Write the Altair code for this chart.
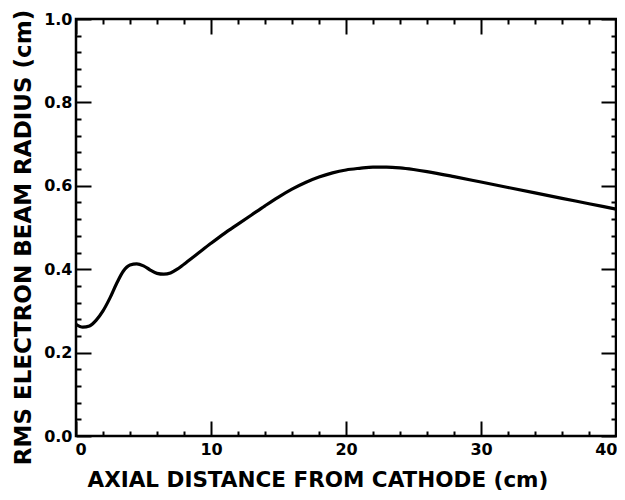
import altair as alt
import pandas as pd

# distance from cathode (cm)
dist = [0, 0.5, 1, 1.5, 2, 2.5, 3, 3.5, 4, 4.5, 5, 5.5, 6, 6.5, 7, 7.5, 8, 9, 10,
        11, 12, 13, 14, 15, 16, 17, 18, 19, 20, 21, 22, 23, 24, 25, 26, 28, 30,
        32, 34, 36, 38, 40]
# rms beam radius (cm)
radius = [0.268, 0.261, 0.264, 0.278, 0.300, 0.330, 0.365, 0.395, 0.410, 0.413,
          0.408, 0.398, 0.390, 0.388, 0.391, 0.400, 0.412, 0.437, 0.462, 0.486,
          0.508, 0.530, 0.552, 0.573, 0.592, 0.608, 0.621, 0.631, 0.638, 0.642,
          0.645, 0.645, 0.643, 0.639, 0.634, 0.622, 0.609, 0.596, 0.583, 0.570,
          0.557, 0.544]

x_major = [0, 10, 20, 30, 40]
x_minor = [v for v in range(0, 41, 2) if v % 10 != 0]
y_major = [0.0, 0.2, 0.4, 0.6, 0.8, 1.0]
y_minor = [round(i * 0.04, 2) for i in range(26) if i % 5 != 0]

df = pd.DataFrame({"x": dist, "y": radius})

xs = alt.Scale(domain=[0, 40], nice=False, zero=False)
ys = alt.Scale(domain=[0, 1.0], nice=False, zero=False)

TF = "DejaVu Sans"

def ax(orient, values, size, labels=False, title=None, **kw):
    args = dict(orient=orient, values=values, tickSize=size, offset=-size,
                domain=False, grid=False, labels=labels, tickColor="black",
                tickWidth=2)
    args["title"] = title
    args.update(kw)
    return alt.Axis(**args)

base = alt.Chart(df)

main = base.mark_line(color="black", strokeWidth=3.2, interpolate="monotone").encode(
    x=alt.X("x:Q", scale=xs, axis=ax(
        "bottom", x_major, 15, labels=True,
        title="AXIAL DISTANCE FROM  CATHODE (cm)",
        labelPadding=5, labelFont=TF, labelFontWeight="bold", labelFontSize=16,
        labelColor="black", labelFlush=True, labelFlushOffset=1,
        titleFont=TF, titleFontWeight="bold", titleFontSize=21.5,
        titleColor="black", titleAnchor="start", titleAlign="left",
        titleBaseline="alphabetic", titleX=11, titleY=65)),
    y=alt.Y("y:Q", scale=ys, axis=ax(
        "left", y_major, 15, labels=True,
        title="RMS ELECTRON BEAM RADIUS (cm)",
        format=".1f", labelPadding=4, labelFont=TF, labelFontWeight="bold",
        labelFontSize=16, labelColor="black", labelFlush=False,
        titleFont=TF, titleFontWeight="bold", titleFontSize=23,
        titleColor="black", titleAlign="center", titleBaseline="alphabetic",
        titleAngle=270, titleX=-61, titleY=218)),
)

minor1 = base.mark_line(opacity=0).encode(
    x=alt.X("x:Q", scale=xs, axis=ax("bottom", x_minor, 5)),
    y=alt.Y("y:Q", scale=ys, axis=ax("left", y_minor, 5)),
)
major2 = base.mark_line(opacity=0).encode(
    x=alt.X("x:Q", scale=xs, axis=ax("top", x_major, 15)),
    y=alt.Y("y:Q", scale=ys, axis=ax("right", y_major, 15)),
)
minor2 = base.mark_line(opacity=0).encode(
    x=alt.X("x:Q", scale=xs, axis=ax("top", x_minor, 5)),
    y=alt.Y("y:Q", scale=ys, axis=ax("right", y_minor, 5)),
)

chart = alt.layer(main, minor1, major2, minor2).resolve_axis(
    x="independent", y="independent"
).properties(
    width=540, height=417,
    autosize=alt.AutoSizeParams(type="none"),
    padding={"left": 68, "top": 11, "right": 1, "bottom": 55},
    background="white",
).configure_view(stroke="black", strokeWidth=2.5)

chart.save("out.html", embed_options={"renderer": "svg", "actions": False})
